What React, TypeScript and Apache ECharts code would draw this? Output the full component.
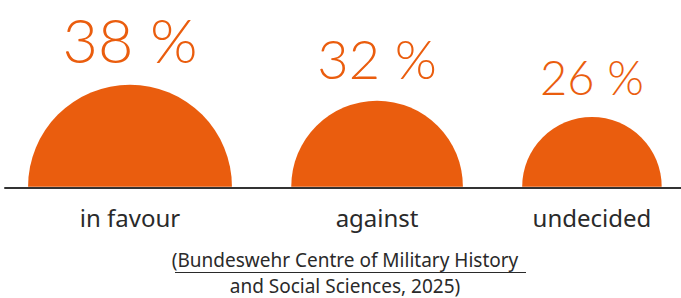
import React, { useEffect, useRef } from "react";
import * as echarts from "echarts";

const categories = ["in favour", "against", "undecided"];
const shares = [38, 32, 26];
const shareLabels = ["38 %", "32 %", "26 %"];
const sourceLines = ["(Bundeswehr Centre of Military History", "and Social Sciences, 2025)"];

const ORANGE = "#EA5D0E";
const DARK = "#2a2a2a";
const PAD = 8.6; // axis units before first half-disc
const GAP = 22.1; // axis units between half-discs

export default function App() {
  const ref = useRef<HTMLDivElement>(null);
  useEffect(() => {
    if (!ref.current) return;
    const chart = echarts.init(ref.current, undefined, { renderer: "svg" });
    const centers: number[] = [];
    let edge = PAD;
    shares.forEach((v) => {
      centers.push(edge + v);
      edge += 2 * v + GAP;
    });
    const data = shares.map((v, i) => [centers[i], v, i]);
    chart.setOption({
      animation: false,
      grid: { left: 5, right: 0, top: 0, bottom: 110.3 },
      xAxis: {
        type: "value",
        min: 0,
        max: 252,
        axisLine: { show: true, lineStyle: { color: "#333", width: 2 } },
        axisTick: { show: false },
        axisLabel: { show: false },
        splitLine: { show: false },
      },
      yAxis: { type: "value", min: 0, max: 60, show: false },
      series: [
        {
          type: "custom",
          clip: false,
          encode: { x: 0, y: 1 },
          data,
          renderItem: (params: any, api: any) => {
            const cx = api.value(0);
            const v = api.value(1);
            const idx = api.value(2);
            const [px, py] = api.coord([cx, 0]);
            const r = api.size([v, 0])[0];
            const fs = 16.6 + 1.17 * v;
            return {
              type: "group",
              children: [
                {
                  type: "sector",
                  shape: { cx: px, cy: py - 1, r, r0: 0, startAngle: Math.PI, endAngle: 2 * Math.PI },
                  style: { fill: ORANGE },
                },
                {
                  type: "text",
                  x: px,
                  y: py - 1 - r - 22 - 0.38 * fs,
                  style: {
                    text: shareLabels[idx],
                    fill: ORANGE,
                    fontSize: fs,
                    fontFamily: "Lato",
                    fontWeight: 300,
                    align: "center",
                    verticalAlign: "middle",
                  },
                },
                {
                  type: "text",
                  x: px,
                  y: py + 30,
                  style: {
                    text: categories[idx],
                    fill: DARK,
                    fontSize: 24,
                    fontFamily: "Noto Sans",
                    align: "center",
                    verticalAlign: "middle",
                  },
                },
              ],
            };
          },
        },
      ],
      graphic: [
        {
          type: "text",
          x: 345,
          y: 259.5,
          style: { text: sourceLines[0], fill: DARK, fontSize: 19, lineHeight: 20, fontFamily: "Noto Sans", align: "center", verticalAlign: "middle" },
        },
        {
          type: "line",
          shape: { x1: 175, y1: 272.5, x2: 526, y2: 272.5 },
          style: { stroke: DARK, lineWidth: 1 },
        },
        {
          type: "text",
          x: 345,
          y: 286,
          style: { text: sourceLines[1], fill: DARK, fontSize: 19, lineHeight: 20, fontFamily: "Noto Sans", align: "center", verticalAlign: "middle" },
        },
      ],
    });
    return () => chart.dispose();
  }, []);
  return <div ref={ref} style={{ position: "absolute", left: 0, top: 0, width: 681, height: 298 }} />;
}
